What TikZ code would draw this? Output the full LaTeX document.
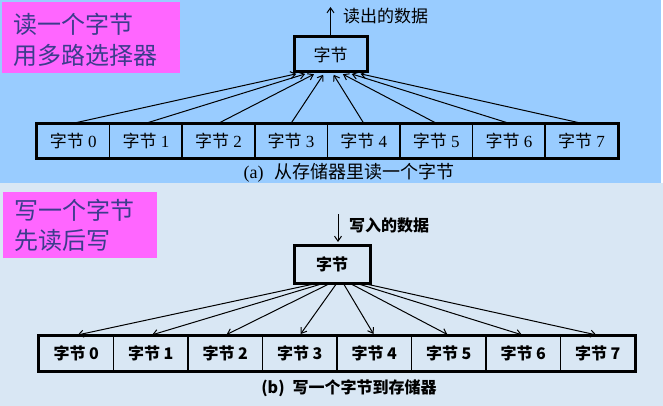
\documentclass[tikz,border=0pt]{standalone}
\usepackage{fontspec}
\setmainfont{Liberation Serif}
\newfontfamily\cjk{Noto Sans CJK SC}
\usetikzlibrary{arrows.meta,calc}
\definecolor{topblue}{HTML}{99CCFF}
\definecolor{pinkbg}{HTML}{FF66FF}
\definecolor{lowbg}{HTML}{D9E7F4}
\definecolor{pinktext}{HTML}{3C3C8C}
\begin{document}
\begin{tikzpicture}[x=1pt,y=-1pt,
  pinktxt/.style={anchor=west, inner sep=0pt, text=pinktext, font=\cjk\fontsize{24}{28}\selectfont},
  bigbox/.style={draw, line width=3pt, inner sep=0pt},
  cellA/.style={draw, line width=1.5pt, minimum width=72.6pt, minimum height=34pt, inner sep=0pt, font=\fontsize{17}{20}\selectfont},
  cellB/.style={draw, line width=1.5pt, minimum width=74.5pt, minimum height=35pt, inner sep=0pt, font=\cjk\bfseries\fontsize{16}{19}\selectfont},
  arr/.style={line width=1pt, -{Straight Barb[length=5pt,width=7pt]}}
]
\useasboundingbox (0,0) rectangle (663,406);
% backgrounds
\fill[lowbg] (0,183) rectangle (663,406);
\fill[topblue] (0,0) rectangle (661,183);
\fill[pinkbg] (2,2) rectangle (180,73);
\fill[pinkbg] (3,192) rectangle (157,258);
\node[pinktxt] (ta1) at (13,24) {读一个字节};
\node[pinktxt] (ta2) at (13,55) {用多路选择器};
\node[pinktxt] (tb1) at (14,210) {写一个字节};
\node[pinktxt] (tb2) at (14,240) {先读后写};

% ---------- top diagram ----------
\node[bigbox, minimum width=73pt, minimum height=35pt, font=\cjk\fontsize{17}{20}\selectfont] (tb) at (330.5,54.5) {字节};
\coordinate (outA) at (330.5,7);
\draw[arr] (tb.north) -- (outA);
\node[anchor=west, inner sep=0pt, font=\cjk\fontsize{17}{20}\selectfont] (lblA) at (343,16) {读出的数据};
\foreach \i in {0,...,7} {
  \node[cellA] (a\i) at ({37+72.6*(\i+0.5)},141) {{\cjk 字节} \i};
}
\draw[line width=3pt] (a0.north west) rectangle (a7.south east);
\foreach \i in {0,...,7} {
  \draw[arr, shorten >=1.5pt] (a\i.north) -- ($(tb.south west)!{0.07+0.115*\i}!(tb.south east)$);
}
\node[font=\fontsize{18}{21}\selectfont, inner sep=0pt] (capA) at (349,173) {(a)\hspace{0.6em}{\cjk 从存储器里读一个字节}};

% ---------- bottom diagram ----------
\node[bigbox, minimum width=76pt, minimum height=38pt, font=\cjk\bfseries\fontsize{16}{19}\selectfont] (bb) at (332,264) {字节};
\coordinate (inB) at (338,214);
\draw[arr, shorten >=1.5pt] (inB) -- (inB |- bb.north);
\node[anchor=west, inner sep=0pt, font=\cjk\bfseries\fontsize{16}{19}\selectfont] (lblB) at (349,225) {写入的数据};
\foreach \i in {0,...,7} {
  \node[cellB] (b\i) at ({39+74.5*(\i+0.5)},353.5) {字节 \i};
}
\draw[line width=3pt] (b0.north west) rectangle (b7.south east);
\foreach \i in {0,...,7} {
  \draw[arr, shorten >=1.5pt] ($(bb.south west)!{0.24+0.103*\i}!(bb.south east)$) -- (b\i.north);
}
\node[font=\cjk\bfseries\fontsize{16}{19}\selectfont, inner sep=0pt] (capB) at (349,388) {(b)\hspace{0.5em}写一个字节到存储器};
\end{tikzpicture}
\end{document}
